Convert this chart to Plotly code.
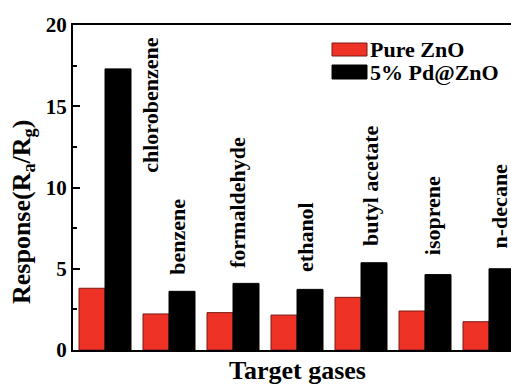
import plotly.graph_objects as go

# Gas-sensing responses of pure and Pd-loaded ZnO
gases = ["chlorobenzene", "benzene", "formaldehyde", "ethanol",
         "butyl acetate", "isoprene", "n-decane"]
pure_zno = [3.80, 2.22, 2.30, 2.15, 3.24, 2.40, 1.74]
pd_zno = [17.3, 3.61, 4.10, 3.73, 5.37, 4.64, 5.00]
series_names = ["Pure ZnO", "5% Pd@ZnO"]
y_ticks = [0, 5, 10, 15, 20]

# Placement of the rotated gas names (x offset from category, y of text foot)
label_dx = [0.70, 0.14, 0.08, 0.13, 0.14, 0.13, 0.17]
label_foot = [10.8, 4.5, 4.9, 4.7, 6.3, 5.7, 6.15]

FONT = "Liberation Serif, Times New Roman, serif"
RED = "#EE3326"

xs = list(range(len(gases)))

fig = go.Figure()
fig.add_trace(go.Bar(x=xs, y=pure_zno, name=series_names[0],
                     marker=dict(color=RED, line=dict(color="#7a1a14", width=1)),
                     showlegend=False))
fig.add_trace(go.Bar(x=xs, y=pd_zno, name=series_names[1],
                     marker=dict(color="black", line=dict(color="black", width=1)),
                     showlegend=False))

W, H = 511, 388
L, R, T, B = 73, 0, 25, 38
pw, ph = W - L - R, H - T - B
step = 64.0  # pixels per category

fig.update_layout(
    width=W, height=H,
    margin=dict(l=L, r=R, t=T, b=B, pad=0),
    paper_bgcolor="white", plot_bgcolor="white",
    barmode="group", bargap=12 / 64, bargroupgap=0,
    font=dict(family=FONT, color="black"),
    xaxis=dict(range=[-0.5, -0.5 + pw / step], showticklabels=False,
               ticks="", showgrid=False, zeroline=False,
               showline=True, linecolor="black", linewidth=2, mirror=True),
    yaxis=dict(range=[0, 20], tickvals=y_ticks, ticks="inside", ticklen=7,
               tickwidth=2, tickcolor="black", showgrid=False, zeroline=False,
               showline=True, linecolor="black", linewidth=2,
               tickfont=dict(family=FONT, size=21, weight="bold"),
               minor=dict(dtick=2.5, ticks="inside", ticklen=4, tickwidth=2,
                          tickcolor="black", showgrid=False)),
)

# Rotated gas names above the bars
for i, g in enumerate(gases):
    fig.add_annotation(x=i + label_dx[i], y=label_foot[i], xref="x", yref="y",
                       text=g, textangle=-90, showarrow=False,
                       xanchor="center", yanchor="bottom",
                       font=dict(family=FONT, size=22, weight="bold"))

# Axis titles
fig.add_annotation(x=3.0, y=-20 / ph, xref="x", yref="paper",
                   text="Target gases", showarrow=False,
                   xanchor="center", yanchor="middle",
                   font=dict(family=FONT, size=26, weight="bold"))
fig.add_annotation(x=-50 / pw, y=(ph - (212 - T)) / ph, xref="paper", yref="paper",
                   text="Response(R<sub>a</sub>/R<sub>g</sub>)", textangle=-90,
                   showarrow=False, xanchor="center", yanchor="middle",
                   font=dict(family=FONT, size=26, weight="bold"))

# Legend: swatches and labels
def px(xp):
    return (xp - L) / pw

def py(yp):
    return (H - B - yp) / ph

legend_rows = [(43, 56, RED, "#7a1a14"), (65, 79, "black", "black")]
for (y0, y1, fill, edge), name in zip(legend_rows, series_names):
    fig.add_shape(type="rect", xref="paper", yref="paper",
                  x0=px(332), x1=px(367), y0=py(y1), y1=py(y0),
                  fillcolor=fill, line=dict(color=edge, width=1))
    fig.add_annotation(x=px(368), y=py((y0 + y1) / 2), xref="paper", yref="paper",
                       text=name, showarrow=False, xanchor="left", yanchor="middle",
                       font=dict(family=FONT, size=22, weight="bold"))

fig.write_html("out.html")
